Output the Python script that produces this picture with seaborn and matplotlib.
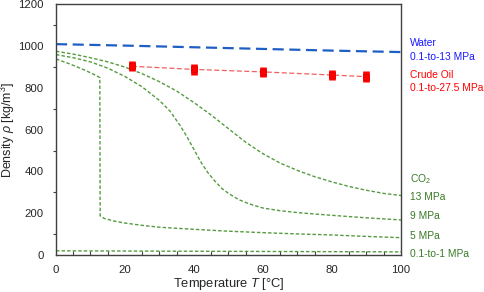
import matplotlib
matplotlib.use("Agg")
import matplotlib.pyplot as plt
import seaborn as sns
import pandas as pd
import numpy as np
from matplotlib.ticker import MultipleLocator

sns.set_style("white")
plt.rcParams['font.family'] = ['Liberation Sans', 'DejaVu Sans']
plt.rcParams['mathtext.fontset'] = 'custom'
plt.rcParams['mathtext.rm'] = 'Liberation Sans'
plt.rcParams['mathtext.it'] = 'Liberation Sans:italic'

# ---- data ----
water_T = [0, 20, 40, 60, 80, 100]
water_rho = [1010, 1003, 995, 987, 979, 972]

oil_T = [22, 40, 60, 80, 90]
oil_rho = [904, 889, 877, 862, 854]
oil_err = [25, 25, 25, 25, 25]

co2_13_T = [0, 5, 10, 15, 20, 25, 30, 35, 40, 45, 50, 55, 60, 65, 70, 75, 80, 85, 90, 95, 100]
co2_13_rho = [976, 962, 945, 925, 900, 868, 830, 785, 730, 670, 605, 540, 485, 440, 405, 375, 350, 328, 310, 295, 285]

co2_9_T = [0, 5, 10, 15, 20, 25, 30, 33, 36, 38, 40, 42, 44, 46, 48, 50, 53, 56, 60, 65, 70, 80, 90, 100]
co2_9_rho = [960, 945, 925, 895, 855, 805, 740, 690, 620, 565, 505, 445, 395, 355, 320, 295, 265, 245, 225, 212, 203, 190, 178, 168]

co2_5_T = [0, 4, 8, 11, 12.7, 12.8, 14, 17, 20, 25, 30, 40, 50, 60, 70, 80, 90, 100]
co2_5_rho = [939, 915, 888, 865, 850, 187, 175, 162, 153, 142, 133, 123, 114, 107, 101, 96, 89, 83]

co2_1_T = [0, 20, 40, 60, 80, 100]
co2_1_rho = [20, 19, 18, 17, 16, 15]

right_labels_blue = ["Water", "0.1-to-13 MPa"]
right_labels_red = ["Crude Oil", "0.1-to-27.5 MPa"]
right_labels_green = ["CO$_2$", "13 MPa", "9 MPa", "5 MPa", "0.1-to-1 MPa"]

# ---- figure ----
fig = plt.figure(figsize=(4.84, 2.92), dpi=100)
ax = fig.add_axes([0.1157, 0.1267, 0.7128, 0.858])

green = "#559b40"
green_txt = "#3b7a28"

for T, r in [(co2_13_T, co2_13_rho), (co2_9_T, co2_9_rho), (co2_5_T, co2_5_rho), (co2_1_T, co2_1_rho)]:
    df = pd.DataFrame({"T": T, "rho": r})
    sns.lineplot(data=df, x="T", y="rho", ax=ax, color=green, lw=1.0,
                 linestyle=(0, (2.5, 1.5)), sort=False)

dfw = pd.DataFrame({"T": water_T, "rho": water_rho})
sns.lineplot(data=dfw, x="T", y="rho", ax=ax, color="#1f5fc4", lw=1.6,
             linestyle=(0, (5, 2.5)))

dfo = pd.DataFrame({"T": oil_T, "rho": oil_rho})
sns.lineplot(data=dfo, x="T", y="rho", ax=ax, color="#f06060", lw=0.9,
             linestyle=(0, (4, 2)))
ax.errorbar(oil_T, oil_rho, yerr=oil_err, fmt='none', ecolor="#ff0000",
            elinewidth=4.8, capsize=0, zorder=5)
sns.scatterplot(data=dfo, x="T", y="rho", ax=ax, color="#ff0000", marker='s',
                s=22, edgecolor="#e00000", linewidth=0.5, zorder=6)

ax.set_xlim(0, 100)
ax.set_ylim(0, 1200)
ax.xaxis.set_major_locator(MultipleLocator(20))
ax.xaxis.set_minor_locator(MultipleLocator(5))
ax.yaxis.set_major_locator(MultipleLocator(200))
ax.yaxis.set_minor_locator(MultipleLocator(100))
ax.tick_params(axis='x', which='major', direction='out', length=3.5, width=0.8, labelsize=8.2, pad=3.5)
ax.tick_params(axis='x', which='minor', direction='in', length=3, width=0.8, bottom=True)
ax.tick_params(axis='y', which='major', direction='out', length=3.5, width=0.8, labelsize=8.2, pad=5.5)
ax.tick_params(axis='y', which='minor', direction='out', length=2.5, width=0.8, left=True)
ax.tick_params(axis='both', which='both', color='#404040')
for s in ax.spines.values():
    s.set_visible(True)
    s.set_color("#404040")
    s.set_linewidth(1.0)

ax.set_xlabel("Temperature $T$ [°C]", fontsize=9.3)
ax.set_ylabel(r"Density $\rho$ [kg/m$^3$]", fontsize=9.0)
ax.xaxis.set_label_coords(0.5, -0.082)
ax.yaxis.set_label_coords(-0.14, 0.5)
ax.yaxis.label.set_va('center')
ax.xaxis.label.set_va('top')

xt = 1.025
def px_to_y(py):
    return (255 - py) / 250.0

for txt, py in zip(right_labels_blue, [43, 57]):
    ax.text(xt, px_to_y(py), txt, transform=ax.transAxes, color="#1a1aff",
            fontsize=7.4, va='center', ha='left', clip_on=False)
for txt, py in zip(right_labels_red, [75, 88]):
    ax.text(xt, px_to_y(py), txt, transform=ax.transAxes, color="#ff0000",
            fontsize=7.4, va='center', ha='left', clip_on=False)
for txt, py in zip(right_labels_green, [179, 197, 216, 236, 254]):
    ax.text(xt, px_to_y(py), txt, transform=ax.transAxes, color=green_txt,
            fontsize=7.4, va='center', ha='left', clip_on=False)

fig.savefig("out.png", dpi=100)
